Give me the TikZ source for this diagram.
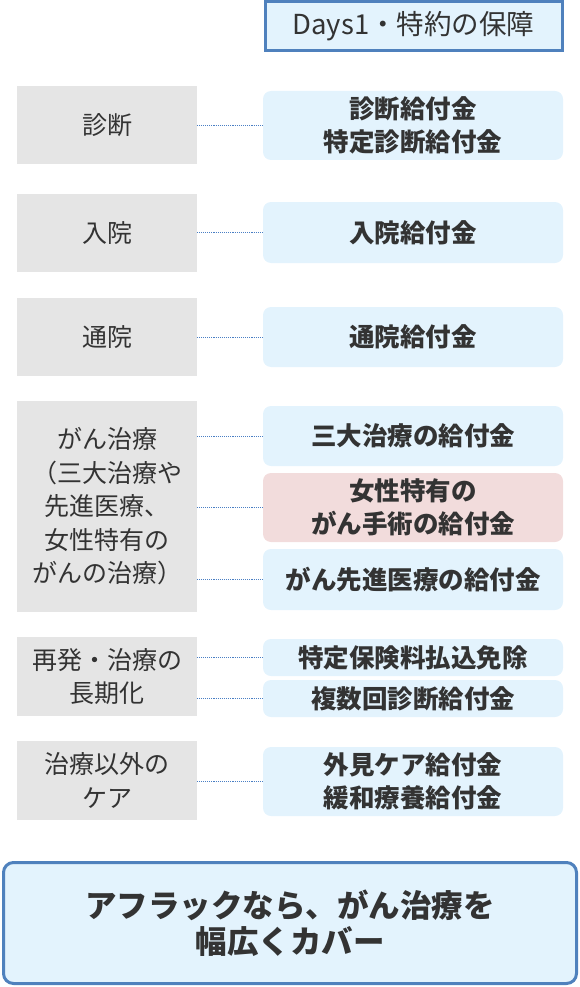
\documentclass[tikz,border=0pt]{standalone}
\usepackage{fontspec}
\newfontfamily\jp{Noto Sans CJK JP}
\usetikzlibrary{positioning}
\definecolor{graybox}{HTML}{E5E5E5}
\definecolor{bluebox}{HTML}{E3F3FD}
\definecolor{pinkbox}{HTML}{F2DCDC}
\definecolor{blueline}{HTML}{4F81BD}
\definecolor{dotblue}{HTML}{4A7FC4}
\definecolor{txt}{HTML}{333333}
\begin{document}
\begin{tikzpicture}[x=1pt,y=-1pt,
  lbox/.style={fill=graybox, minimum width=180pt, inner sep=0pt, text=txt, align=center,
    font=\jp\fontsize{25}{33.5}\selectfont},
  rbox/.style={fill=bluebox, rounded corners=8pt, minimum width=300pt, inner sep=0pt, text=txt, align=center,
    font=\jp\bfseries\fontsize{25.5}{33}\selectfont},
  conn/.style={dotblue, densely dotted, line width=0.9pt}]
\useasboundingbox (0,0) rectangle (580,987);
% top header
\node[draw=blueline, line width=3pt, fill=bluebox, minimum width=297pt, minimum height=49pt, inner sep=0pt,
  text=txt, font=\jp\fontsize{27.5}{33}\selectfont] (hd) at (413.5,26.5) {Days1・特約の保障};
% left boxes
\node[lbox, minimum height=78pt] (l1) at (107,125) {診断};
\node[lbox, minimum height=78pt] (l2) at (107,233) {入院};
\node[lbox, minimum height=78pt] (l3) at (107,337) {通院};
\node[lbox, minimum height=211pt] (l4) at (107,506.5) {がん治療\\（三大治療や\\先進医療、\\女性特有の\\がんの治療）};
\node[lbox, minimum height=79pt] (l5) at (107,676.5) {再発・治療の\\長期化};
\node[lbox, minimum height=79pt] (l6) at (107,780.5) {治療以外の\\ケア};
% right boxes
\node[rbox, minimum height=69pt] (r1) at (413,125.5) {診断給付金\\特定診断給付金};
\node[rbox, minimum height=61pt] (r2) at (413,232.5) {入院給付金};
\node[rbox, minimum height=60pt] (r3) at (413,337) {通院給付金};
\node[rbox, minimum height=60pt] (r4) at (413,436) {三大治療の給付金};
\node[rbox, minimum height=69pt, fill=pinkbox] (r5) at (413,507.5) {女性特有の\\がん手術の給付金};
\node[rbox, minimum height=61pt] (r6) at (413,579.5) {がん先進医療の給付金};
\node[rbox, minimum height=37pt] (r7) at (413,657.5) {特定保険料払込免除};
\node[rbox, minimum height=37pt] (r8) at (413,698.5) {複数回診断給付金};
\node[rbox, minimum height=69pt] (r9) at (413,781.5) {外見ケア給付金\\緩和療養給付金};
% connectors
\draw[conn] (r1.west) -- (r1.west -| l1.east);
\draw[conn] (r2.west) -- (r2.west -| l2.east);
\draw[conn] (r3.west) -- (r3.west -| l3.east);
\draw[conn] (r4.west) -- (r4.west -| l4.east);
\draw[conn] (r5.west) -- (r5.west -| l4.east);
\draw[conn] (r6.west) -- (r6.west -| l4.east);
\draw[conn] (r7.west) -- (r7.west -| l5.east);
\draw[conn] (r8.west) -- (r8.west -| l5.east);
\draw[conn] (r9.west) -- (r9.west -| l6.east);
% bottom box
\node[draw=blueline, line width=3pt, fill=bluebox, rounded corners=10pt, minimum width=573pt, minimum height=121pt,
  inner sep=0pt, text=txt, align=center, font=\jp\bfseries\fontsize{31.5}{36}\selectfont] (bt) at (290,923)
  {アフラックなら、がん治療を\\幅広くカバー};
\end{tikzpicture}
\end{document}
